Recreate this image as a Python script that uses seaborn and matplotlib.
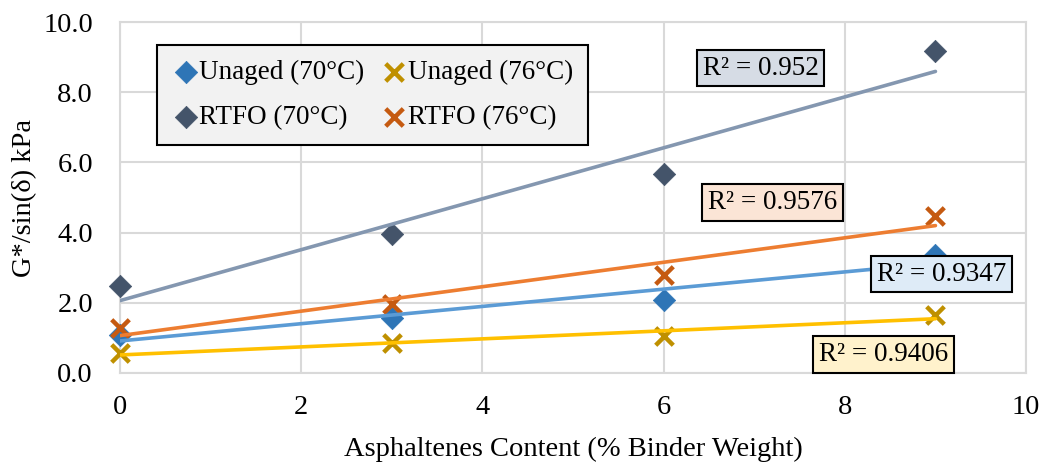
import pandas as pd
import numpy as np
import matplotlib
matplotlib.use("Agg")
import matplotlib.pyplot as plt
import seaborn as sns

# asphaltenes content (% binder weight)
asph = [0, 3, 6, 9]

# G*/sin(delta) in kPa
unaged_70 = [1.08, 1.56, 2.07, 3.37]
rtfo_70 = [2.49, 3.97, 5.67, 9.18]
unaged_76 = [0.57, 0.85, 1.05, 1.65]
rtfo_76 = [1.27, 1.98, 2.80, 4.48]

series_names = ["Unaged (70°C)", "RTFO (70°C)", "Unaged (76°C)", "RTFO (76°C)"]
r2_labels = ["R² = 0.9347", "R² = 0.952", "R² = 0.9406", "R² = 0.9576"]

marker_colors = ["#2E75B6", "#44546A", "#BF9000", "#C55A11"]
line_colors = ["#5B9BD5", "#8497B0", "#FFC000", "#ED7D31"]
box_colors = ["#DEEBF7", "#D6DCE5", "#FFF2CC", "#FBE5D6"]
markers = ["D", "D", "X", "X"]
# where the R² boxes sit (data coords)
r2_pos = [(9.07, 2.82), (7.07, 8.69), (8.43, 0.54), (7.2, 4.87)]

rows = []
for name, vals in zip(series_names, [unaged_70, rtfo_70, unaged_76, rtfo_76]):
    for x, y in zip(asph, vals):
        rows.append({"series": name, "asph": x, "g": y})
df = pd.DataFrame(rows)

sns.set_style("white")
plt.rcParams["font.family"] = ["Liberation Serif", "DejaVu Serif"]
plt.rcParams["text.color"] = "black"
plt.rcParams["axes.labelcolor"] = "black"
plt.rcParams["xtick.color"] = "black"
plt.rcParams["ytick.color"] = "black"

fig = plt.figure(figsize=(10.47, 4.69), dpi=100)
ax = fig.add_axes([0.1146, 0.2047, 0.8654, 0.7483])

for i, name in enumerate(series_names):
    sub = df[df["series"] == name]
    if markers[i] == "D":
        sns.scatterplot(data=sub, x="asph", y="g", ax=ax, marker="D", s=130,
                        color=marker_colors[i], edgecolor=marker_colors[i],
                        linewidth=0.5, label=name, zorder=3, clip_on=False)
    else:
        ax.scatter(sub["asph"], sub["g"], marker="x", s=160, color=marker_colors[i],
                   linewidths=3.2, label=name, zorder=3, clip_on=False)
    sns.regplot(data=sub, x="asph", y="g", ax=ax, scatter=False, ci=None,
                color=line_colors[i], line_kws={"lw": 2.6, "zorder": 4})

for i in range(4):
    ax.text(r2_pos[i][0], r2_pos[i][1], r2_labels[i], fontsize=19.5, ha="center",
            va="center", zorder=6,
            bbox=dict(boxstyle="square,pad=0.22", fc=box_colors[i], ec="black", lw=1.5))

ax.set_xlim(0, 10)
ax.set_ylim(0, 10)
ax.set_xticks(range(0, 11, 2))
ax.set_yticks(np.arange(0, 10.1, 2))
ax.set_yticklabels([f"{v:.1f}" for v in np.arange(0, 10.1, 2)])
ax.tick_params(labelsize=20.5, length=0)
ax.tick_params(axis="y", pad=19.5)
ax.tick_params(axis="x", pad=16)
ax.grid(True, color="#D9D9D9", lw=1.5)
for sp in ax.spines.values():
    sp.set_color("#D9D9D9")
    sp.set_linewidth(1.5)
ax.set_xlabel("Asphaltenes Content (% Binder Weight)", fontsize=20.5, labelpad=12)
ax.set_ylabel("G*/sin(δ) kPa", fontsize=20.5, labelpad=4)

handles, labels = ax.get_legend_handles_labels()
order = [labels.index(n) for n in series_names]
leg = ax.legend([handles[k] for k in order], [labels[k] for k in order], ncol=2,
                loc="upper left", bbox_to_anchor=(0.041, 0.934), borderaxespad=0,
                fontsize=19.5, frameon=True, fancybox=False, framealpha=1,
                facecolor="#F2F2F2", edgecolor="black", handletextpad=0.0,
                handlelength=1.0, columnspacing=0.6, labelspacing=0.72,
                borderpad=0.55)
leg.get_frame().set_linewidth(1.5)

fig.savefig("out.png", dpi=100)
